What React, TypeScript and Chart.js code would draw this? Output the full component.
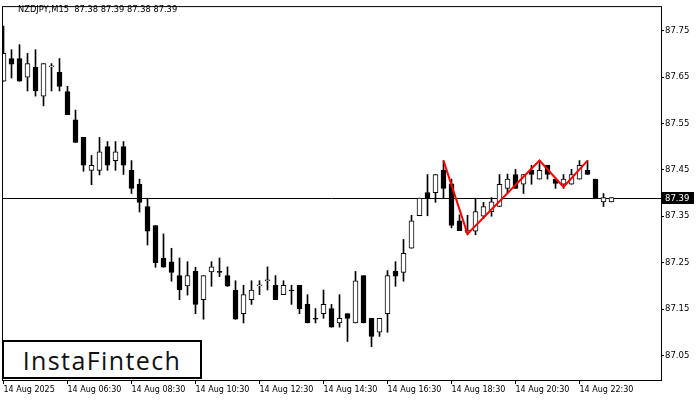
import React, { useEffect, useRef } from "react";
import { Chart, registerables } from "chart.js";

Chart.register(...registerables);

const symbolTitle = "NZDJPY,M15  87.38 87.39 87.38 87.39";
const watermark = "InstaFintech";

const timeLabels = [
  "14 Aug 2025", "14 Aug 06:30", "14 Aug 08:30", "14 Aug 10:30", "14 Aug 12:30",
  "14 Aug 14:30", "14 Aug 16:30", "14 Aug 18:30", "14 Aug 20:30", "14 Aug 22:30",
];
const timeLabelBars = [0, 8, 16, 24, 32, 40, 48, 56, 64, 72];

const priceTicks = [87.05, 87.15, 87.25, 87.35, 87.45, 87.55, 87.65, 87.75];
const priceMin = 86.997;
const priceMax = 87.803;
const currentPrice = 87.39;

const opens = [
  87.641, 87.690, 87.690, 87.650, 87.671, 87.609, 87.672, 87.660, 87.619, 87.558,
  87.520, 87.449, 87.449, 87.500, 87.470, 87.500, 87.449, 87.419, 87.371, 87.330,
  87.260, 87.252, 87.222, 87.200, 87.231, 87.170, 87.230, 87.231, 87.222, 87.191,
  87.140, 87.170, 87.200, 87.211, 87.201, 87.181, 87.191, 87.201, 87.160, 87.130,
  87.140, 87.151, 87.120, 87.140, 87.120, 87.222, 87.130, 87.100, 87.140, 87.231,
  87.229, 87.281, 87.351, 87.401, 87.401, 87.449, 87.420, 87.340, 87.315, 87.318,
  87.350, 87.360, 87.371, 87.410, 87.440, 87.419, 87.449, 87.430, 87.460, 87.430,
  87.419, 87.419, 87.430, 87.449, 87.430, 87.381, 87.381,
];
const highs = [
  87.760, 87.709, 87.720, 87.701, 87.709, 87.679, 87.679, 87.690, 87.630, 87.579,
  87.520, 87.481, 87.520, 87.511, 87.511, 87.511, 87.470, 87.430, 87.389, 87.330,
  87.312, 87.281, 87.260, 87.252, 87.240, 87.222, 87.252, 87.260, 87.241, 87.211,
  87.201, 87.211, 87.211, 87.241, 87.222, 87.211, 87.201, 87.201, 87.181, 87.151,
  87.191, 87.160, 87.181, 87.140, 87.231, 87.222, 87.130, 87.130, 87.233, 87.252,
  87.300, 87.352, 87.389, 87.440, 87.440, 87.470, 87.430, 87.353, 87.352, 87.389,
  87.380, 87.390, 87.440, 87.441, 87.451, 87.440, 87.460, 87.470, 87.460, 87.430,
  87.440, 87.451, 87.470, 87.470, 87.430, 87.399, 87.390,
];
const lows = [
  87.641, 87.648, 87.641, 87.620, 87.609, 87.588, 87.620, 87.620, 87.569, 87.509,
  87.447, 87.418, 87.439, 87.449, 87.449, 87.440, 87.399, 87.359, 87.288, 87.240,
  87.240, 87.210, 87.170, 87.180, 87.140, 87.128, 87.199, 87.220, 87.199, 87.128,
  87.120, 87.160, 87.181, 87.191, 87.170, 87.181, 87.160, 87.140, 87.120, 87.120,
  87.130, 87.111, 87.111, 87.080, 87.120, 87.120, 87.069, 87.091, 87.100, 87.199,
  87.210, 87.281, 87.351, 87.351, 87.380, 87.390, 87.325, 87.319, 87.310, 87.310,
  87.345, 87.350, 87.371, 87.399, 87.410, 87.399, 87.419, 87.430, 87.430, 87.410,
  87.410, 87.419, 87.430, 87.440, 87.390, 87.371, 87.381,
];
const closes = [
  87.701, 87.678, 87.641, 87.679, 87.620, 87.679, 87.674, 87.630, 87.569, 87.509,
  87.460, 87.460, 87.489, 87.460, 87.489, 87.460, 87.410, 87.380, 87.318, 87.250,
  87.240, 87.229, 87.191, 87.222, 87.160, 87.222, 87.241, 87.229, 87.199, 87.128,
  87.181, 87.191, 87.202, 87.213, 87.170, 87.201, 87.189, 87.151, 87.120, 87.128,
  87.160, 87.111, 87.130, 87.130, 87.211, 87.120, 87.091, 87.130, 87.222, 87.221,
  87.270, 87.340, 87.389, 87.390, 87.440, 87.410, 87.330, 87.319, 87.320, 87.360,
  87.371, 87.381, 87.419, 87.430, 87.410, 87.440, 87.440, 87.449, 87.440, 87.421,
  87.430, 87.440, 87.460, 87.440, 87.390, 87.390, 87.390,
];

const patternBars = [55, 58, 67, 70, 73];
const patternPrices = [87.470, 87.312, 87.470, 87.413, 87.470];

const FONT = "'DejaVu Sans', Verdana, sans-serif";

export default function App() {
  const canvasRef = useRef<HTMLCanvasElement | null>(null);

  useEffect(() => {
    document.body.style.margin = "0";
    const canvas = canvasRef.current;
    if (!canvas) return;

    const wicks = opens.map((_, i) => ({ x: i, y: [lows[i], highs[i]] }));
    const bodies = opens.map((o, i) => ({ x: i, y: [o, closes[i]] }));
    const bodyColors = opens.map((o, i) => (closes[i] >= o ? "#ffffff" : "#000000"));
    const pattern = patternBars.map((b, i) => ({ x: b, y: patternPrices[i] }));

    const framePlugin = {
      id: "frame",
      beforeDatasetsDraw(chart: any) {
        const { ctx, chartArea } = chart;
        const y = Math.round(chart.scales.y.getPixelForValue(currentPrice)) + 0.5;
        ctx.save();
        ctx.strokeStyle = "#000";
        ctx.lineWidth = 1;
        ctx.beginPath();
        ctx.moveTo(chartArea.left, y);
        ctx.lineTo(chartArea.right, y);
        ctx.stroke();
        ctx.restore();
      },
      afterDraw(chart: any) {
        const { ctx, chartArea } = chart;
        ctx.save();
        ctx.strokeStyle = "#000";
        ctx.lineWidth = 1;
        ctx.strokeRect(
          chartArea.left + 0.5,
          chartArea.top + 0.5,
          chartArea.right - chartArea.left,
          chartArea.bottom - chartArea.top
        );
        const y = Math.round(chart.scales.y.getPixelForValue(currentPrice));
        ctx.fillStyle = "#000";
        ctx.fillRect(chartArea.right + 1, y - 6, 32, 12);
        ctx.fillStyle = "#fff";
        ctx.font = `8.5px ${FONT}`;
        ctx.textBaseline = "middle";
        ctx.textAlign = "left";
        ctx.fillText(currentPrice.toFixed(2), chartArea.right + 4, y + 0.5);
        ctx.restore();
      },
    };

    const chart = new Chart(canvas, {
      type: "bar",
      data: {
        datasets: [
          {
            type: "line",
            data: pattern as any,
            borderColor: "#ff0000",
            borderWidth: 2,
            pointRadius: 0,
            tension: 0,
            fill: false,
            order: 0,
          } as any,
          {
            type: "bar",
            data: bodies as any,
            backgroundColor: bodyColors,
            borderColor: "#000000",
            borderWidth: 1,
            borderSkipped: false,
            barThickness: 5,
            grouped: false,
            order: 1,
          } as any,
          {
            type: "bar",
            data: wicks as any,
            backgroundColor: "#000000",
            borderWidth: 0,
            barThickness: 1,
            grouped: false,
            order: 2,
          } as any,
        ],
      },
      options: {
        responsive: false,
        animation: false,
        devicePixelRatio: 1,
        layout: { padding: { left: 2, top: 2, right: 0, bottom: 0 } },
        plugins: {
          legend: { display: false },
          tooltip: { enabled: false },
          title: { display: false },
        },
        scales: {
          x: {
            type: "linear",
            min: -0.1875,
            max: 82.1875,
            offset: false,
            afterBuildTicks: (s: any) => {
              s.ticks = timeLabelBars.map((v) => ({ value: v }));
            },
            afterFit: (s: any) => {
              s.height = 20;
            },
            grid: {
              display: true,
              drawOnChartArea: false,
              drawTicks: true,
              tickLength: 4,
              color: "#000",
              tickColor: "#000",
              offset: false,
            },
            border: { display: false },
            ticks: {
              autoSkip: false,
              maxRotation: 0,
              minRotation: 0,
              align: "start",
              padding: 1,
              color: "#000",
              font: { family: FONT, size: 8 },
              callback: (_v: any, i: number) => timeLabels[i],
            },
          },
          y: {
            type: "linear",
            position: "right",
            min: priceMin,
            max: priceMax,
            afterBuildTicks: (s: any) => {
              s.ticks = priceTicks.map((v) => ({ value: v }));
            },
            afterFit: (s: any) => {
              s.width = 39;
            },
            grid: {
              display: true,
              drawOnChartArea: false,
              drawTicks: true,
              tickLength: 3,
              color: "#000",
              tickColor: "#000",
            },
            border: { display: false },
            ticks: {
              padding: 1,
              color: "#000",
              font: { family: FONT, size: 8.5 },
              callback: (v: any) => Number(v).toFixed(2),
            },
          },
        },
      } as any,
      plugins: [framePlugin],
    });

    return () => chart.destroy();
  }, []);

  return (
    <div
      style={{
        position: "fixed",
        left: 0,
        top: 0,
        width: 700,
        height: 400,
        background: "#fff",
        overflow: "hidden",
      }}
    >
      <canvas ref={canvasRef} width={700} height={400} style={{ display: "block" }} />
      <div
        style={{
          position: "absolute",
          left: 18,
          top: 4,
          fontFamily: FONT,
          fontSize: 8.3,
          lineHeight: "11px",
          color: "#000",
          whiteSpace: "pre",
        }}
      >
        {symbolTitle}
      </div>
      <div
        style={{
          position: "absolute",
          left: 2,
          top: 340,
          width: 200,
          height: 39,
          boxSizing: "border-box",
          border: "2px solid #000",
          background: "#fff",
          display: "flex",
          alignItems: "center",
          justifyContent: "center",
          fontFamily: "'Open Sans', sans-serif",
          fontSize: 25,
          letterSpacing: 1.4,
          color: "#111",
        }}
      >
        {watermark}
      </div>
    </div>
  );
}
